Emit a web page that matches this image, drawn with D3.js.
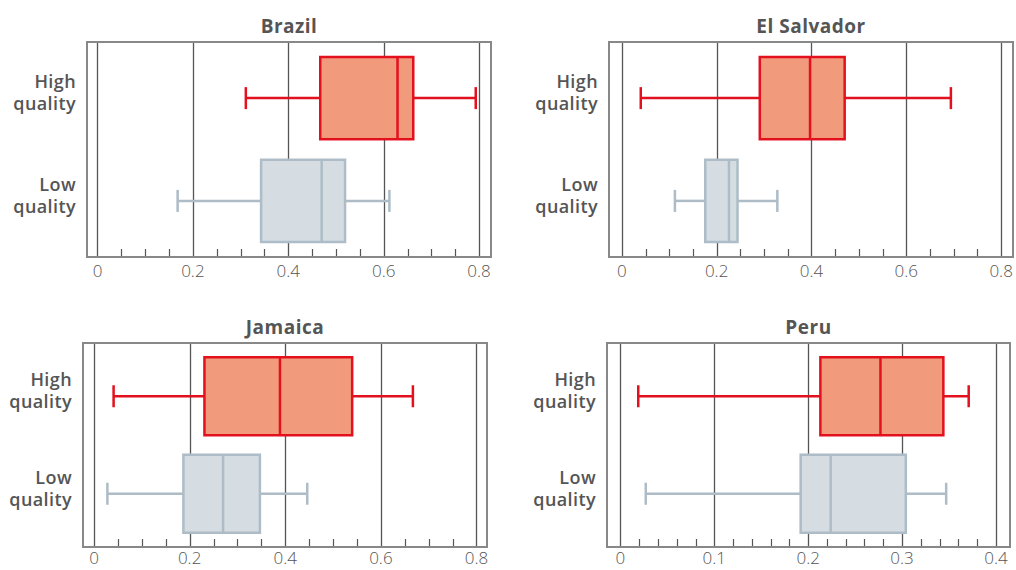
<!DOCTYPE html>
<html>
<head>
<meta charset="utf-8">
<script src="https://cdn.jsdelivr.net/npm/d3@7"></script>
<style>
  body { margin: 0; background: #fff; }
  svg { display: block; font-family: "Open Sans", "Lato", sans-serif; }
</style>
</head>
<body>
<svg id="chart" width="1016" height="570"></svg>
<script>
// qualities shown in every panel, top to bottom
const qualities = ["High quality", "Low quality"];
const countries = ["Brazil", "El Salvador", "Jamaica", "Peru"];

// box stats per country: [min, q1, median, q3, max], order = qualities
const brazil     = [[0.311, 0.467, 0.629, 0.662, 0.793], [0.168, 0.343, 0.470, 0.519, 0.612]];
const elSalvador = [[0.040, 0.291, 0.397, 0.470, 0.694], [0.112, 0.176, 0.226, 0.244, 0.328]];
const jamaica    = [[0.041, 0.231, 0.389, 0.540, 0.667], [0.028, 0.187, 0.270, 0.347, 0.446]];
const peru       = [[0.019, 0.213, 0.277, 0.344, 0.371], [0.027, 0.192, 0.224, 0.304, 0.347]];

// x axis tick labels per panel
const ticks08 = [0, 0.2, 0.4, 0.6, 0.8];
const ticks04 = [0, 0.1, 0.2, 0.3, 0.4];

const stats = [brazil, elSalvador, jamaica, peru];
const tickSets = [ticks08, ticks08, ticks08, ticks04];
const minorSteps = [0.05, 0.05, 0.05, 0.02];

// frame rectangles of the four panels
const panels = [
  { x0: 87,  x1: 491,  y0: 42,  y1: 257, dom: [-0.022, 0.825], lab: 20 },
  { x0: 609, x1: 1013, y0: 42,  y1: 257, dom: [-0.027, 0.825], lab: 20 },
  { x0: 83,  x1: 487,  y0: 343, y1: 547, dom: [-0.023, 0.822], lab: 17 },
  { x0: 607, x1: 1010, y0: 343, y1: 547, dom: [-0.0143, 0.415], lab: 17 }
];

const fills = { "High quality": "#f29a7c", "Low quality": "#d5dde3" };
const strokes = { "High quality": "#e3101e", "Low quality": "#adbcc6" };
const textColor = "#555";

const svg = d3.select("#chart");

panels.forEach((p, i) => {
  const g = svg.append("g");
  const x = d3.scaleLinear().domain(p.dom).range([p.x0, p.x1]);
  const y = d3.scaleBand().domain(qualities).range([p.y0, p.y1])
    .paddingInner(0.2).paddingOuter(0.146);

  const majors = tickSets[i];
  const step = minorSteps[i];
  const minors = d3.range(0, majors[majors.length - 1] + step / 2, step)
    .filter(v => !majors.some(m => Math.abs(m - v) < 1e-9));

  // vertical gridlines at major ticks
  g.selectAll(".grid").data(majors).enter().append("line")
    .attr("x1", d => Math.round(x(d)) + 0.5)
    .attr("x2", d => Math.round(x(d)) + 0.5)
    .attr("y1", p.y0).attr("y2", p.y1)
    .attr("stroke", "#555").attr("stroke-width", 1.3);

  // minor ticks rising from the bottom
  g.selectAll(".minor").data(minors).enter().append("line")
    .attr("x1", d => Math.round(x(d)) + 0.5)
    .attr("x2", d => Math.round(x(d)) + 0.5)
    .attr("y1", p.y1).attr("y2", p.y1 - 8)
    .attr("stroke", "#555").attr("stroke-width", 1.2);

  // frame
  g.append("rect")
    .attr("x", p.x0).attr("y", p.y0)
    .attr("width", p.x1 - p.x0).attr("height", p.y1 - p.y0)
    .attr("fill", "none").attr("stroke", "#888").attr("stroke-width", 2);

  // tick labels
  g.selectAll(".tl").data(majors).enter().append("text")
    .attr("x", d => x(d)).attr("y", p.y1 + p.lab)
    .attr("text-anchor", "middle")
    .attr("font-size", 17).attr("font-weight", 300)
    .attr("fill", textColor)
    .text(d => d === 0 ? "0" : d3.format(".1f")(d));

  // title
  g.append("text")
    .attr("x", (p.x0 + p.x1) / 2).attr("y", p.y0 - 9)
    .attr("text-anchor", "middle")
    .attr("font-size", 19).attr("font-weight", 700)
    .attr("letter-spacing", 0.5)
    .attr("fill", textColor)
    .text(countries[i]);

  // category labels
  qualities.forEach(q => {
    const cy = y(q) + y.bandwidth() / 2;
    const t = g.append("text")
      .attr("text-anchor", "end")
      .attr("font-size", 18).attr("font-weight", 600)
      .attr("letter-spacing", 0.4)
      .attr("fill", textColor);
    q.split(" ").forEach((w, k) => {
      t.append("tspan")
        .attr("x", p.x0 - 11)
        .attr("y", cy - 10 + k * 22)
        .text(w);
    });
  });

  // boxes
  const boxes = g.selectAll(".box").data(qualities.map((q, k) => ({ q, s: stats[i][k] })))
    .enter().append("g");

  boxes.each(function (d) {
    const b = d3.select(this);
    const [mn, q1, md, q3, mx] = d.s;
    const top = y(d.q), bw = y.bandwidth(), cy = top + bw / 2;
    const col = strokes[d.q];
    b.append("line").attr("x1", x(mn)).attr("x2", x(q1)).attr("y1", cy).attr("y2", cy)
      .attr("stroke", col).attr("stroke-width", 2.5);
    b.append("line").attr("x1", x(q3)).attr("x2", x(mx)).attr("y1", cy).attr("y2", cy)
      .attr("stroke", col).attr("stroke-width", 2.5);
    [mn, mx].forEach(v => {
      b.append("line").attr("x1", x(v)).attr("x2", x(v)).attr("y1", cy - 11).attr("y2", cy + 11)
        .attr("stroke", col).attr("stroke-width", 2.5);
    });
    b.append("rect")
      .attr("x", x(q1)).attr("y", top)
      .attr("width", x(q3) - x(q1)).attr("height", bw)
      .attr("fill", fills[d.q]).attr("stroke", col).attr("stroke-width", 2.5);
    b.append("line").attr("x1", x(md)).attr("x2", x(md)).attr("y1", top).attr("y2", top + bw)
      .attr("stroke", col).attr("stroke-width", 2.5);
  });
});
</script>
</body>
</html>
